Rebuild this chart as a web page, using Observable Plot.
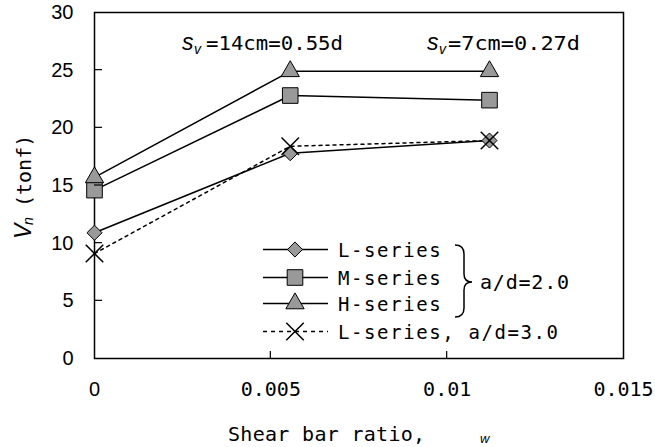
<!DOCTYPE html>
<html><head><meta charset="utf-8">
<script src="https://cdn.jsdelivr.net/npm/d3@7"></script>
<script src="https://cdn.jsdelivr.net/npm/@observablehq/plot@0.6"></script>
<style>body{margin:0;background:#fff}svg{display:block}</style>
</head><body><div id="chart"></div>
<script>
const shearRatio = [0, 0.00555, 0.0112];
const lSeries = [10.9, 17.8, 18.9];
const mSeries = [14.6, 22.8, 22.4];
const hSeries = [15.7, 24.9, 24.9];
const l3Series = [9.1, 18.4, 18.9];
const yTicks = [0, 5, 10, 15, 20, 25, 30];
const xTicks = [0, 0.005, 0.01, 0.015];
const xTickLabels = ["0", "0.005", "0.01", "0.015"];
const seriesNames = ["L-series", "M-series", "H-series", "L-series, a/d=3.0"];
const spacingLabels = ["=14cm=0.55d", "=7cm=0.27d"];
const groupLabel = "a/d=2.0";
const xTitle = "Shear bar ratio,";
const yTitle = "(tonf)";

const mk = vals => shearRatio.map((x, i) => ({x, y: vals[i]}));
const L = mk(lSeries), M = mk(mSeries), H = mk(hSeries), L3 = mk(l3Series);
const MONO = "'DejaVu Sans Mono', monospace";
const SANS = "'Liberation Sans', Arial, sans-serif";
const gray = "#999999";
const symStyle = {fill: gray, stroke: "#000", strokeWidth: 1};
const R = {diamond2: 6.8, square: 8.8, triangle: 6.8, times: 8};

const plot = Plot.plot({
  width: 655, height: 447,
  marginTop: 12, marginBottom: 89, marginLeft: 94, marginRight: 32,
  x: {domain: [0, 0.015]},
  y: {domain: [0, 30]},
  style: {background: "#fff", color: "#000"},
  marks: [
    Plot.axisY({ticks: yTicks, tickSize: 0, tickPadding: 21, fontSize: 20, fontFamily: SANS, label: null}),
    Plot.axisX({ticks: [0], tickSize: 0, tickPadding: 23, fontSize: 20, fontFamily: SANS, label: null, tickFormat: d => xTickLabels[xTicks.indexOf(d)]}),
    Plot.axisX({ticks: xTicks.slice(1), tickSize: 0, tickPadding: 23, fontSize: 20, fontFamily: MONO, label: null, tickFormat: d => xTickLabels[xTicks.indexOf(d)]}),
    Plot.frame({stroke: "#000", strokeWidth: 1.5}),
    Plot.line(L3, {x: "x", y: "y", stroke: "#000", strokeWidth: 1.5, strokeDasharray: "3,4"}),
    Plot.line(L, {x: "x", y: "y", stroke: "#000", strokeWidth: 1.5}),
    Plot.line(M, {x: "x", y: "y", stroke: "#000", strokeWidth: 1.5}),
    Plot.line(H, {x: "x", y: "y", stroke: "#000", strokeWidth: 1.5}),
    Plot.dot(L, {x: "x", y: "y", symbol: "diamond2", r: R.diamond2, ...symStyle}),
    Plot.dot(M, {x: "x", y: "y", symbol: "square", r: R.square, ...symStyle}),
    Plot.dot(H, {x: "x", y: "y", symbol: "triangle", r: R.triangle, ...symStyle}),
    Plot.dot(L3, {x: "x", y: "y", symbol: "times", r: R.times, stroke: "#000", strokeWidth: 1.5})
  ]
});
document.getElementById("chart").appendChild(plot);

const sx = plot.scale("x"), sy = plot.scale("y");
const svg = d3.select(plot);
const g = svg.append("g").attr("fill", "#000").attr("text-anchor", "start").style("text-anchor", "start");

// inward ticks
const x0 = sx.apply(0), y0 = sy.apply(0);
yTicks.slice(1, -1).forEach(t => g.append("line").attr("x1", x0).attr("x2", x0 + 8)
  .attr("y1", sy.apply(t)).attr("y2", sy.apply(t)).attr("stroke", "#000").attr("stroke-width", 1.2));
xTicks.slice(1, -1).forEach(t => g.append("line").attr("y1", y0).attr("y2", y0 - 7)
  .attr("x1", sx.apply(t)).attr("x2", sx.apply(t)).attr("stroke", "#000").attr("stroke-width", 1.2));

// spacing annotations
function spacing(xs, xEq, label, len) {
  const t = g.append("text").attr("y", 50);
  t.append("tspan").attr("x", xs).attr("font-family", SANS).attr("font-style", "italic").attr("font-size", 23).text("s");
  t.append("tspan").attr("x", xs + 12).attr("dy", 4).attr("font-family", SANS).attr("font-style", "italic").attr("font-size", 14).text("v");
  g.append("text").attr("x", xEq).attr("y", 50).attr("font-family", MONO).attr("font-size", 20)
    .attr("textLength", len).attr("lengthAdjust", "spacingAndGlyphs").text(label);
}
spacing(182, 206, spacingLabels[0], 137);
spacing(427, 448, spacingLabels[1], 132);

// legend
const legendY = [249.5, 277.5, 303.5, 331.5];
const syms = ["diamond2", "square", "triangle", "times"];
const d3sym = {diamond2: d3.symbolDiamond2, square: d3.symbolSquare, triangle: d3.symbolTriangle, times: d3.symbolTimes};
legendY.forEach((ly, i) => {
  const dashed = i === 3;
  g.append("line").attr("x1", 263).attr("x2", 328).attr("y1", ly).attr("y2", ly)
    .attr("stroke", "#000").attr("stroke-width", 1.5).attr("stroke-dasharray", dashed ? "4,4" : null);
  const s = syms[i];
  const p = g.append("path").attr("transform", `translate(295,${ly})`)
    .attr("d", d3.symbol(d3sym[s], Math.PI * R[s] * R[s])());
  if (dashed) p.attr("fill", "none").attr("stroke", "#000").attr("stroke-width", 1.5);
  else p.attr("fill", gray).attr("stroke", "#000").attr("stroke-width", 1);
  g.append("text").attr("x", 338).attr("y", ly + 7.5).attr("font-family", MONO).attr("font-size", 19)
    .attr("letter-spacing", 1.6).text(seriesNames[i]);
});
// brace
g.append("path").attr("fill", "none").attr("stroke", "#000").attr("stroke-width", 1.5)
  .attr("d", "M455,245 Q464,245 464,254 L464,274 Q464,282 472,282 Q464,282 464,290 L464,308 Q464,317 455,317");
g.append("text").attr("x", 480).attr("y", 289).attr("font-family", MONO).attr("font-size", 20)
  .attr("letter-spacing", 0.8).text(groupLabel);

// x title
g.append("text").attr("x", 228).attr("y", 441).attr("font-family", MONO).attr("font-size", 20)
  .attr("letter-spacing", 0.3).text(xTitle);
g.append("text").attr("x", 480).attr("y", 443).attr("font-family", SANS).attr("font-style", "italic")
  .attr("font-size", 13).text("w");

// y title
const yt = g.append("text").attr("transform", "translate(31,239) rotate(-90)");
yt.append("tspan").attr("x", 0).attr("y", 0).attr("font-family", SANS).attr("font-style", "italic").attr("font-size", 23).text("V");
yt.append("tspan").attr("x", 14).attr("y", 2).attr("font-family", SANS).attr("font-style", "italic").attr("font-size", 14).text("n");
yt.append("tspan").attr("x", 32).attr("y", 0).attr("font-family", MONO).attr("font-size", 20).text(yTitle);
</script>
</body></html>
